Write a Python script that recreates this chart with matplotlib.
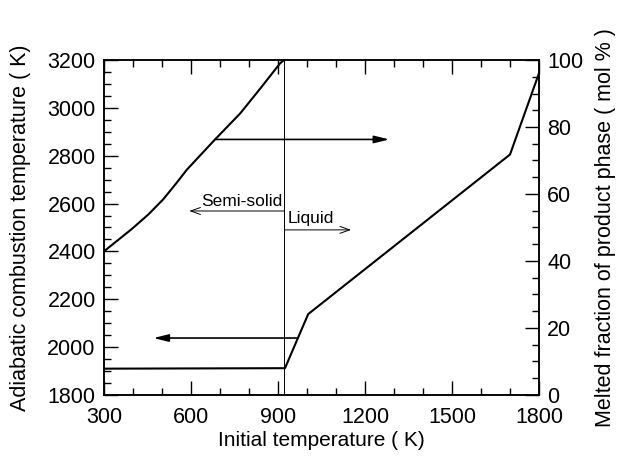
import matplotlib.pyplot as plt
from matplotlib.ticker import MultipleLocator

plt.rcParams['font.family'] = ['Liberation Sans', 'DejaVu Sans']

# adiabatic combustion temperature (left axis)
t0_ad = [300, 924, 1004, 1700, 1800]
t_ad = [1910, 1912, 2138, 2805, 3145]

# melted fraction of product phase (right axis)
t0_melt = [300, 395, 453, 504, 551, 585, 683, 769, 838, 907, 921]
melt = [42.9, 49.5, 53.9, 58.4, 63.4, 67.2, 76.3, 84.0, 91.4, 99.0, 100]

t_melt_point = 922

# arrows: (x_from, x_to, y) in left-axis units
arrow_ad = (964, 470, 2038)
arrow_melt = (683, 1284, 2868)
arrow_semi = (922, 594, 2569)
arrow_liq = (922, 1152, 2490)

fig = plt.figure(figsize=(6.17, 4.57), dpi=100)
ax = fig.add_axes([0.1686, 0.1357, 0.705, 0.733])
ax2 = ax.twinx()

ax.plot(t0_ad, t_ad, color='black', lw=1.5)
ax2.plot(t0_melt, melt, color='black', lw=1.5)
ax.axvline(t_melt_point, color='black', lw=0.7)

def arrow(a, lw, style):
    ax.annotate('', xy=(a[1], a[2]), xytext=(a[0], a[2]),
                arrowprops=dict(arrowstyle=style, lw=lw, color='black',
                                shrinkA=0, shrinkB=0))

arrow(arrow_ad, 1.2, '-|>,head_length=0.9,head_width=0.22')
arrow(arrow_melt, 1.2, '-|>,head_length=0.9,head_width=0.22')
arrow(arrow_semi, 0.7, '->,head_length=0.7,head_width=0.25')
arrow(arrow_liq, 0.7, '->,head_length=0.7,head_width=0.25')
ax.text(914, 2578, 'Semi-solid', ha='right', va='bottom', fontsize=12.5)
ax.text(932, 2505, 'Liquid', ha='left', va='bottom', fontsize=12.5)

ax.set_xlim(300, 1800)
ax.set_ylim(1800, 3200)
ax2.set_ylim(0, 100)
ax.xaxis.set_major_locator(MultipleLocator(300))
ax.xaxis.set_minor_locator(MultipleLocator(100))
ax.yaxis.set_major_locator(MultipleLocator(200))
ax.yaxis.set_minor_locator(MultipleLocator(50))
ax2.yaxis.set_major_locator(MultipleLocator(20))
ax2.yaxis.set_minor_locator(MultipleLocator(5))

ax.tick_params(which='both', direction='in', top=True, labelsize=15.5)
ax.tick_params(axis='x', pad=9)
ax.tick_params(axis='y', pad=6)
ax.tick_params(which='major', length=10, width=1)
ax.tick_params(which='minor', length=5, width=1)
ax2.tick_params(which='both', direction='in', labelsize=15.5, pad=6)
ax2.tick_params(which='major', length=10, width=1)
ax2.tick_params(which='minor', length=5, width=1)
for a in (ax, ax2):
    for s in a.spines.values():
        s.set_linewidth(1.1)

ax.set_xlabel('Initial temperature ( K)', fontsize=15, labelpad=2)
ax.set_ylabel('Adiabatic combustion temperature ( K)', fontsize=15.5, labelpad=12)
ax2.set_ylabel('Melted fraction of product phase ( mol % )', fontsize=15.5, labelpad=8)

fig.savefig('out.png', dpi=100)
